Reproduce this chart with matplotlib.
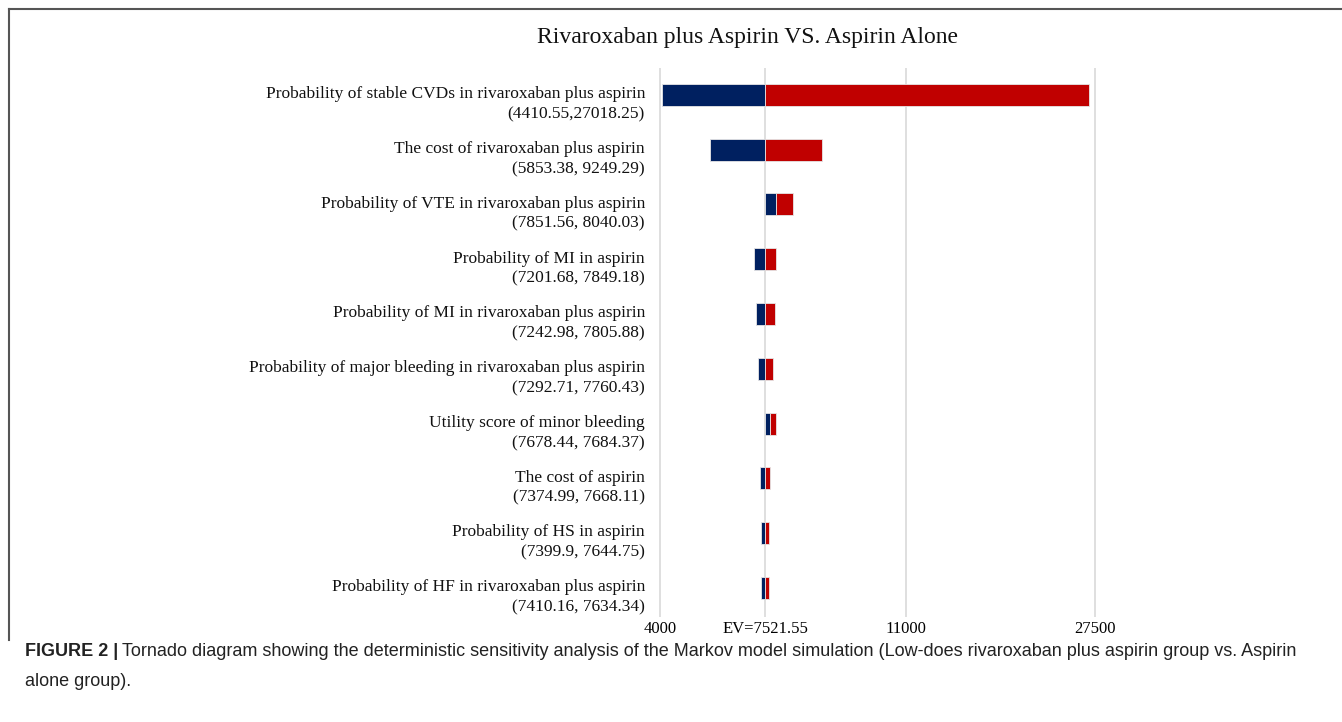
"""Tornado diagram: rivaroxaban plus aspirin vs. aspirin alone (one-way DSA)."""

import matplotlib

matplotlib.use("Agg")
import matplotlib.pyplot as plt
import numpy as np
from matplotlib.lines import Line2D

EV = 7521.55

PARAMS = [
    "Probability of stable CVDs in rivaroxaban plus aspirin",
    "The cost of rivaroxaban plus aspirin",
    "Probability of VTE in rivaroxaban plus aspirin",
    "Probability of MI in aspirin",
    "Probability of MI in rivaroxaban plus aspirin",
    "Probability of major bleeding in rivaroxaban plus aspirin",
    "Utility score of minor bleeding",
    "The cost of aspirin",
    "Probability of HS in aspirin",
    "Probability of HF in rivaroxaban plus aspirin",
]
RANGES = [
    "(4410.55,27018.25)",
    "(5853.38, 9249.29)",
    "(7851.56, 8040.03)",
    "(7201.68, 7849.18)",
    "(7242.98, 7805.88)",
    "(7292.71, 7760.43)",
    "(7678.44, 7684.37)",
    "(7374.99, 7668.11)",
    "(7399.9, 7644.75)",
    "(7410.16, 7634.34)",
]
LOW = np.array([4410.55, 5853.38, 7851.56, 7201.68, 7242.98,
                7292.71, 7678.44, 7374.99, 7399.9, 7410.16])
HIGH = np.array([27018.25, 9249.29, 8040.03, 7849.18, 7805.88,
                 7760.43, 7684.37, 7668.11, 7644.75, 7634.34])

TICKS = [4000, EV, 11000, 27500]
TICK_LABELS = ["4000", "EV=7521.55", "11000", "27500"]

BLUE = "#002060"
RED = "#C00000"
GRID = "#d9d9d9"

# the original axis is not linear: roughly linear near EV, squeezed further out
_XP = np.array([0, 4000, 4410, 9300, 11000, 27500, 40000])
_FP = np.array([500, 660, 662, 824, 906, 1095, 1400])


def _fwd(x):
    return np.interp(x, _XP, _FP)


def _inv(p):
    return np.interp(p, _FP, _XP)


W, H = 1342, 722
fig = plt.figure(figsize=(W / 100, H / 100), dpi=100)
ax_left, ax_right, ax_top, ax_bot = 655, 1110, 68, 617
ax = fig.add_axes([ax_left / W, 1 - ax_bot / H,
                   (ax_right - ax_left) / W, (ax_bot - ax_top) / H])
ax.set_xscale("function", functions=(_fwd, _inv))

y = np.arange(len(PARAMS))
# excel-style stacked bars: blue spans EV->low, red is stacked with width high-EV
red_left = np.where(LOW > EV, LOW, EV)
ax.barh(y, LOW - EV, left=EV, height=0.4, color=BLUE,
        edgecolor="#e6e6e6", linewidth=0.6, zorder=3)
ax.barh(y, HIGH - EV, left=red_left, height=0.4, color=RED,
        edgecolor="#e6e6e6", linewidth=0.6, zorder=3)

ax.set_xlim(_inv(ax_left), _inv(ax_right))
ax.set_ylim(9.53, -0.49)
ax.set_xticks(TICKS)
ax.set_xticklabels(TICK_LABELS, family="Liberation Serif", fontsize=12)
ax.set_yticks([])
ax.tick_params(axis="x", length=0, pad=3)
ax.xaxis.grid(True, color=GRID, linewidth=1.2, zorder=0)
ax.set_axisbelow(True)
for s in ax.spines.values():
    s.set_visible(False)

lab_x = (645 - ax_left) / (ax_right - ax_left)
for i, (name, rng) in enumerate(zip(PARAMS, RANGES)):
    ax.annotate(name, (lab_x, i), xycoords=("axes fraction", "data"),
                xytext=(0, 0.5), textcoords="offset points",
                ha="right", va="center", family="Liberation Serif",
                fontsize=12.5, color="#111111", annotation_clip=False)
    ax.annotate(rng, (lab_x, i), xycoords=("axes fraction", "data"),
                xytext=(0, -14), textcoords="offset points",
                ha="right", va="center", family="Liberation Serif",
                fontsize=12.5, color="#111111", annotation_clip=False)

fig.text(748 / W, 1 - 37 / H, "Rivaroxaban plus Aspirin VS. Aspirin Alone",
         ha="center", va="center", family="Liberation Serif", fontsize=17,
         color="#111111")

# panel frame (top and left edge only)
fig.add_artist(Line2D([9 / W, 1], [1 - 8.5 / H] * 2, color="#555555", lw=1.5))
fig.add_artist(Line2D([9 / W] * 2, [1 - 8.5 / H, 1 - 640 / H],
                      color="#555555", lw=1.5))

cap_kw = dict(family="Liberation Sans", fontsize=13, color="#222222",
              va="center")
t = fig.text(25 / W, 1 - 652 / H, "FIGURE 2 |", fontweight="bold", **cap_kw)
fig.canvas.draw()
bb = t.get_window_extent()
fig.text((bb.x1 + 4) / W, 1 - 652 / H,
         "Tornado diagram showing the deterministic sensitivity analysis of the "
         "Markov model simulation (Low-does rivaroxaban plus aspirin group vs. Aspirin",
         **cap_kw)
fig.text(25 / W, 1 - 681 / H, "alone group).", **cap_kw)

fig.savefig("out.png", dpi=100)
